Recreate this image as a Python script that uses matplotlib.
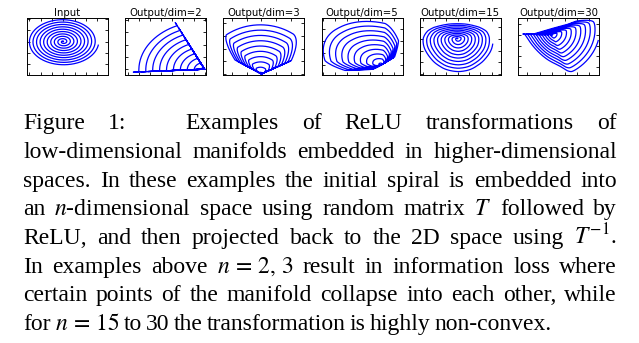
"""
ReLU transformations of a 2D spiral embedded in n-dimensional spaces,
with the figure caption typeset underneath.
"""

import numpy as np
import matplotlib
matplotlib.use("Agg")
import matplotlib.pyplot as plt
from matplotlib.ticker import MaxNLocator

W, H = 639, 343

# input spiral: radius grows linearly with the angle
spiral_turns = 10
spiral_end_offset = -0.15   # radians, where the last turn stops
spiral_samples = 4000

panel_titles = ["Input", "Output/dim=2", "Output/dim=3", "Output/dim=5",
                "Output/dim=15", "Output/dim=30"]

# embedding matrix for n=2
T_dim2 = [[-0.98, -0.46],
          [-0.06, 1.08]]

# rows of the other embeddings, given as direction (degrees) and gain
dim3_angles = [38, 90, 145]
dim3_gains = [1.0, 0.9, 0.8]

dim5_angles = [40, 95, 130, 170, 215]
dim5_gains = [0.7, 1.0, 0.9, 1.0, 0.6]

dim15_angles = [4, 33, 52, 80, 99, 128, 147, 176, 196, 224, 243, 272, 292,
                320, 340]
dim15_gains = [1.03, 1.10, 0.94, 0.56, 0.55, 0.94, 1.10, 1.03, 0.89, 0.97,
               1.17, 1.32, 1.22, 0.94, 0.88]

dim30_angles = [26, 29, 32, 35, 38, 30, 34, 28,
                166, 169, 172, 175, 178, 170, 174, 168,
                280, 284, 288, 292, 296, 286, 290, 282,
                332, 336, 340, 344, 348, 338]
dim30_gains = [1.0] * 16 + [1.1] * 8 + [1.0] * 6

# empty space around the curve in each panel, as axes fractions (l, r, b, t)
panel_margins = [(0.03, 0.12, 0.18, 0.03),
                 (0.10, 0.02, 0.05, 0.08),
                 (0.03, 0.10, 0.02, 0.12),
                 (0.02, 0.05, 0.08, 0.06),
                 (0.04, 0.10, 0.06, 0.10),
                 (0.06, 0.01, 0.06, 0.04)]

caption_lines = [
    ["Figure", "1:", "Examples", "of", "ReLU", "transformations", "of"],
    ["low-dimensional", "manifolds", "embedded", "in", "higher-dimensional"],
    ["spaces.", "In", "these", "examples", "the", "initial", "spiral", "is",
     "embedded", "into"],
    ["an", "$n$-dimensional", "space", "using", "random", "matrix", "$T$",
     "followed", "by"],
    ["ReLU,", "and", "then", "projected", "back", "to", "the", "2D", "space",
     "using", "$T^{-1}$."],
    ["In", "examples", "above", "$n\\,=\\,2,\\,3$", "result", "in", "information",
     "loss", "where"],
    ["certain", "points", "of", "the", "manifold", "collapse", "into", "each",
     "other,", "while"],
    ["for", "$n\\,=\\,15$", "to", "30", "the", "transformation", "is", "highly",
     "non-convex."],
]
caption_baselines = [129, 158, 187, 215, 244, 273, 301, 330]
caption_right = [617, 617, 617, 617, 617, 617, 617, 552]


def spiral():
    theta = np.linspace(0, 2 * np.pi * spiral_turns + spiral_end_offset,
                        spiral_samples)
    return np.vstack([theta * np.cos(theta), theta * np.sin(theta)])


def rows(angles, gains):
    a = np.radians(angles)
    g = np.asarray(gains, dtype=float)
    return np.column_stack([g * np.cos(a), g * np.sin(a)])


def relu_roundtrip(T, pts):
    T = np.asarray(T, dtype=float)
    return np.linalg.pinv(T) @ np.maximum(T @ pts, 0)


def set_limits(ax, x, y, margins):
    l, r, b, t = margins
    w = (x.max() - x.min()) / (1 - l - r)
    h = (y.max() - y.min()) / (1 - b - t)
    ax.set_xlim(x.min() - l * w, x.max() + r * w)
    ax.set_ylim(y.min() - b * h, y.max() + t * h)


def justify(fig, words, baseline, x0, x1, size, extra=None):
    renderer = fig.canvas.get_renderer()
    texts = [fig.text(0, 1 - baseline / H, w, fontsize=size, va="baseline",
                      family="Liberation Serif") for w in words]
    widths = [t.get_window_extent(renderer).width for t in texts]
    extra = extra or {}
    gap = ((x1 - x0) - sum(widths) - sum(extra.values())) / (len(words) - 1)
    x = x0
    for i, (t, w) in enumerate(zip(texts, widths)):
        t.set_x(x / W)
        x += w + gap + extra.get(i, 0)


plt.rcParams["mathtext.fontset"] = "stix"
fig = plt.figure(figsize=(W / 100, H / 100), dpi=100)

pts = spiral()
embeddings = [T_dim2,
              rows(dim3_angles, dim3_gains),
              rows(dim5_angles, dim5_gains),
              rows(dim15_angles, dim15_gains),
              rows(dim30_angles, dim30_gains)]
curves = [pts] + [relu_roundtrip(T, pts) for T in embeddings]

for i, (title, (x, y), margins) in enumerate(zip(panel_titles, curves,
                                                  panel_margins)):
    left = 27 + i * 98.2
    ax = fig.add_axes([left / W, 1 - 75 / H, 81 / W, 57 / H])
    ax.plot(x, y, color="blue", lw=0.9)
    set_limits(ax, x, y, margins)
    ax.set_title(title, fontsize=7.3, pad=1.5)
    ax.xaxis.set_major_locator(MaxNLocator(8))
    ax.yaxis.set_major_locator(MaxNLocator(6))
    ax.tick_params(direction="in", length=2, width=0.6, top=True, right=True,
                   labelbottom=False, labelleft=False)
    for spine in ax.spines.values():
        spine.set_linewidth(0.7)

font_px = 17 * 100 / 72
for i, words in enumerate(caption_lines):
    extra = {1: 1.5 * font_px} if i == 0 else None
    justify(fig, words, caption_baselines[i], 23, caption_right[i], 17, extra)

fig.savefig("out.png", dpi=100)
